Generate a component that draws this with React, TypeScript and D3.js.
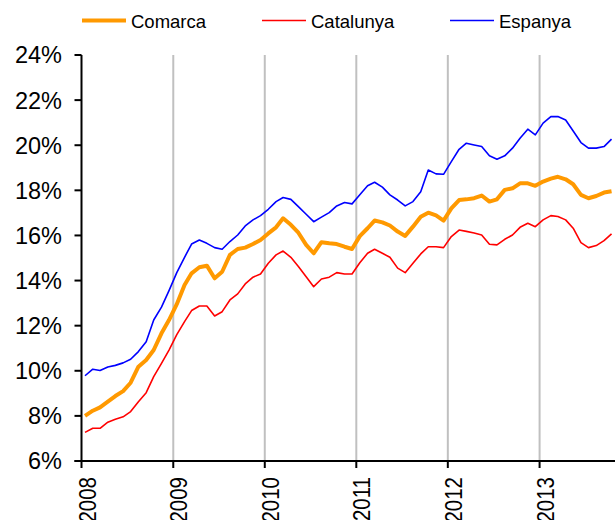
import React from 'react';
import * as d3 from 'd3';

const seriesNames = ['Comarca', 'Catalunya', 'Espanya'];
const years = [2008, 2009, 2010, 2011, 2012, 2013];
const yTicks = [6, 8, 10, 12, 14, 16, 18, 20, 22, 24];

const comarca = [
  8.00, 8.23, 8.38, 8.63, 8.88, 9.10, 9.47, 10.18, 10.48, 10.92, 11.66, 12.25,
  12.95, 13.80, 14.32, 14.59, 14.66, 14.10, 14.39, 15.14, 15.40, 15.46, 15.62, 15.80,
  16.09, 16.36, 16.76, 16.47, 16.12, 15.58, 15.21, 15.70, 15.65, 15.62, 15.50, 15.40,
  15.97, 16.32, 16.66, 16.58, 16.44, 16.17, 15.98, 16.39, 16.83, 17.01, 16.89, 16.66,
  17.20, 17.57, 17.60, 17.65, 17.77, 17.50, 17.60, 18.02, 18.09, 18.31, 18.31, 18.20,
  18.39, 18.52, 18.60, 18.49, 18.27, 17.80, 17.65, 17.75, 17.90, 17.96,
];

const catalunya = [
  7.27, 7.45, 7.45, 7.72, 7.85, 7.96, 8.19, 8.63, 9.03, 9.74, 10.33, 10.92,
  11.60, 12.18, 12.67, 12.87, 12.87, 12.43, 12.62, 13.14, 13.41, 13.85, 14.15, 14.29,
  14.77, 15.14, 15.31, 15.03, 14.62, 14.17, 13.73, 14.07, 14.15, 14.35, 14.29, 14.29,
  14.79, 15.21, 15.39, 15.21, 15.03, 14.55, 14.35, 14.77, 15.18, 15.50, 15.50, 15.46,
  15.95, 16.24, 16.18, 16.11, 16.02, 15.61, 15.58, 15.83, 16.02, 16.36, 16.54, 16.39,
  16.69, 16.88, 16.84, 16.69, 16.32, 15.68, 15.46, 15.55, 15.77, 16.07,
];

const espanya = [
  9.78, 10.07, 10.01, 10.17, 10.24, 10.35, 10.51, 10.85, 11.29, 12.25, 12.82, 13.55,
  14.35, 15.03, 15.62, 15.80, 15.65, 15.46, 15.39, 15.73, 16.02, 16.42, 16.69, 16.88,
  17.16, 17.50, 17.68, 17.60, 17.28, 16.94, 16.61, 16.81, 17.01, 17.31, 17.46, 17.40,
  17.80, 18.20, 18.36, 18.14, 17.80, 17.57, 17.31, 17.50, 17.94, 18.90, 18.73, 18.71,
  19.27, 19.82, 20.09, 20.01, 19.94, 19.53, 19.38, 19.53, 19.87, 20.31, 20.71, 20.46,
  20.98, 21.27, 21.27, 21.12, 20.63, 20.12, 19.87, 19.87, 19.94, 20.27,
];

const colors = ['#FF9900', '#FF0000', '#0000FF'];
const widths = [4, 1.6, 1.6];

export default function App() {
  const W = 615;
  const H = 520;
  const left = 81.5;
  const yearW = 91.6;
  const x = d3
    .scaleTime()
    .domain([new Date(2008, 0, 1), new Date(2014, 0, 1)])
    .range([left, left + 6 * yearW]);
  const y = d3.scaleLinear().domain([6, 24]).range([461, 55]);
  const dates = comarca.map((_, i) => new Date(2008, i, 15));
  const lineGen = d3
    .line<number>()
    .x((_, i) => x(dates[i]))
    .y((v) => y(v));
  const series = [comarca, catalunya, espanya];
  const font = 'Liberation Sans, Arial, Helvetica, sans-serif';

  const legendX = [82, 262, 450];

  return (
    <svg
      width={W}
      height={H}
      style={{ position: 'absolute', left: 0, top: 0, background: '#fff' }}
      fontFamily={font}
    >
      <rect x={0} y={0} width={W} height={H} fill="#fff" />
      {years.slice(1).map((yr) => (
        <line
          key={yr}
          x1={x(new Date(yr, 0, 1))}
          x2={x(new Date(yr, 0, 1))}
          y1={y(24)}
          y2={y(6)}
          stroke="#C0C0C0"
          strokeWidth={2}
        />
      ))}
      {[2, 1, 0].map((k) => (
        <path
          key={k}
          d={lineGen(series[k]) || ''}
          fill="none"
          stroke={colors[k]}
          strokeWidth={widths[k]}
          strokeLinejoin="round"
        />
      ))}
      {/* y axis */}
      <line x1={left} x2={left} y1={y(24)} y2={y(6) + 1} stroke="#000" strokeWidth={2} />
      {yTicks.map((t) => (
        <g key={t}>
          <line x1={left - 7} x2={left} y1={y(t)} y2={y(t)} stroke="#000" strokeWidth={2} />
          <text x={62} y={y(t)} dy="0.36em" textAnchor="end" fontSize={23.5} fill="#000">
            {t + '%'}
          </text>
        </g>
      ))}
      {/* x axis */}
      <line x1={left - 7} x2={W} y1={y(6)} y2={y(6)} stroke="#000" strokeWidth={2} />
      {years.map((yr) => {
        const xx = x(new Date(yr, 0, 1));
        return (
          <g key={yr}>
            <line x1={xx} x2={xx} y1={y(6)} y2={y(6) + 7} stroke="#000" strokeWidth={2} />
            <text
              transform={`translate(${xx + 14},${477}) scale(1.2,1) rotate(-90)`}
              textAnchor="end"
              fontSize={20.5}
              fill="#000"
            >
              {String(yr)}
            </text>
          </g>
        );
      })}
      {/* legend */}
      {seriesNames.map((name, k) => (
        <g key={name}>
          <line
            x1={legendX[k]}
            x2={legendX[k] + 44}
            y1={20.5}
            y2={20.5}
            stroke={colors[k]}
            strokeWidth={widths[k]}
          />
          <text x={legendX[k] + 49} y={21} dy="0.36em" fontSize={18.5} fill="#000">
            {name}
          </text>
        </g>
      ))}
    </svg>
  );
}
